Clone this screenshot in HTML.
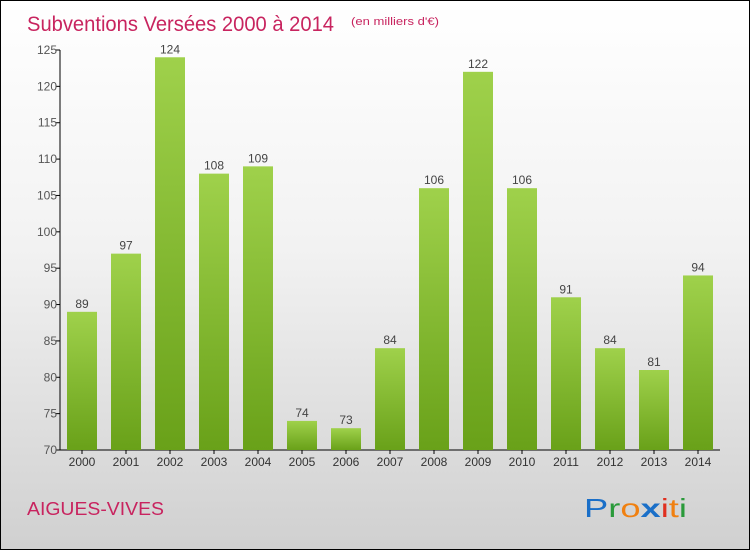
<!DOCTYPE html>
<html><head><meta charset="utf-8"><style>
body{margin:0;}
#wrap{position:relative;width:750px;height:550px;box-sizing:border-box;border:1px solid #000;background:linear-gradient(#ffffff 0%,#f2f2f2 45%,#d0d0d0 100%);font-family:"Liberation Sans",sans-serif;overflow:hidden}
</style></head><body>
<div id="wrap">
<svg id="chart" width="748" height="548" style="position:absolute;left:0;top:0">
<defs><linearGradient id="bg" x1="0" y1="0" x2="0" y2="1"><stop offset="0" stop-color="#9fd14b"/><stop offset="1" stop-color="#69a119"/></linearGradient></defs>
<text x="26" y="30" font-size="21" fill="#c8245f" textLength="307" lengthAdjust="spacingAndGlyphs">Subventions Versées 2000 à 2014</text>
<text x="350" y="24" font-size="11" fill="#c8245f" textLength="88" lengthAdjust="spacingAndGlyphs">(en milliers d'€)</text>
<text x="26" y="514" font-size="18" fill="#c8245f" textLength="137" lengthAdjust="spacingAndGlyphs">AIGUES-VIVES</text>
<g font-size="26" font-family="'Liberation Sans',sans-serif">
<text x="583" y="516" textLength="103" lengthAdjust="spacingAndGlyphs"><tspan fill="#1a6fc8">P</tspan><tspan fill="#2a9a3a">r</tspan><tspan fill="#f08010">o</tspan><tspan fill="#1a6fc8" font-weight="bold">x</tspan><tspan fill="#e03020">i</tspan><tspan fill="#f08010">t</tspan><tspan fill="#2a9a3a">i</tspan></text>
</g>
<g id="axes"></g><g id="bars"></g>
</svg>
</div>
<script>
const years=["2000","2001","2002","2003","2004","2005","2006","2007","2008","2009","2010","2011","2012","2013","2014"];
const values=[89,97,124,108,109,74,73,84,106,122,106,91,84,81,94];
const yTicks=[70,75,80,85,90,95,100,105,110,115,120,125];
const NS="http://www.w3.org/2000/svg";
const yMin=70,yMax=125,yTop=49,yBot=449,x0=59,x1=719;
function y(v){return yBot-(v-yMin)/(yMax-yMin)*(yBot-yTop);}
function xc(i){return 81+i*44;}
function mk(t,a,p){const e=document.createElementNS(NS,t);for(const k in a)e.setAttribute(k,a[k]);p.appendChild(e);return e;}
const ax=document.getElementById('axes'),bs=document.getElementById('bars');
const yl=mk('line',{x1:x0,y1:yTop,x2:x0,y2:yBot,stroke:'#000'},ax);


const xl=mk('line',{x1:x0,y1:yBot,x2:x1,y2:yBot,stroke:'#000'},ax);


yTicks.forEach(v=>{
 mk('line',{x1:x0-4,y1:y(v),x2:x0,y2:y(v),stroke:'#000'},ax);
 const t=mk('text',{x:x0-3,y:y(v)+4,'font-size':12,fill:'#555','text-anchor':'end'},ax);t.textContent=v;
 
 
});
years.forEach((yr,i)=>{
 const c=xc(i),v=values[i];
 mk('line',{x1:c,y1:yBot,x2:c,y2:yBot+4,stroke:'#000'},ax);
 const t=mk('text',{x:c,y:yBot+16,'font-size':12,fill:'#333','text-anchor':'middle'},ax);t.textContent=yr;
 
 
 const r=mk('rect',{x:c-15,y:y(v),width:30,height:yBot-y(v),fill:'url(#bg)'},bs);
 
 
 const l=mk('text',{x:c,y:y(v)-4,'font-size':12,fill:'#444','text-anchor':'middle'},bs);l.textContent=v;
 
 
});
</script>
</body></html>
